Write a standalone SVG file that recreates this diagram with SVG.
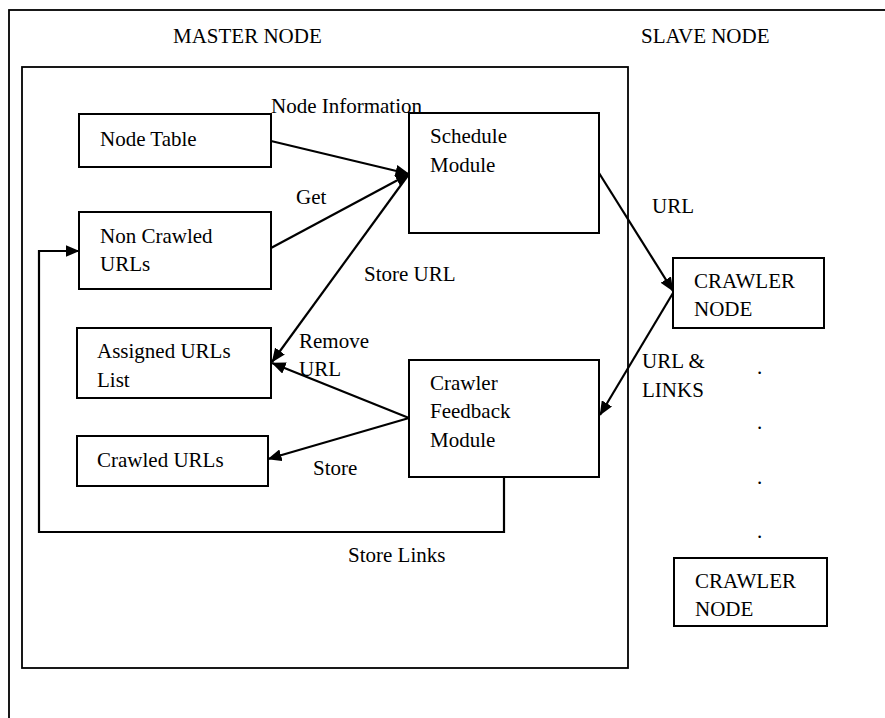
<svg xmlns="http://www.w3.org/2000/svg" width="885" height="718" viewBox="0 0 885 718">
  <style>
    text { font-family: "Liberation Serif", "Times New Roman", serif; font-size: 21px; fill: #000; }
    .box { fill: #fff; stroke: #000; stroke-width: 2; }
    .frame { fill: none; stroke: #000; stroke-width: 1.8; }
    .link { fill: none; stroke: #000; stroke-width: 2.2; }
  </style>
  <defs>
    <marker id="head" markerUnits="userSpaceOnUse" markerWidth="14" markerHeight="12" refX="13.5" refY="6" orient="auto">
      <path d="M0,0 L14,6 L0,12 z" fill="#000"/>
    </marker>
  </defs>

  <rect width="885" height="718" fill="#fff"/>

  <!-- outer page frame (runs past the right and bottom edges) -->
  <rect class="frame" x="9" y="10" width="900" height="760"/>
  <text x="173" y="43">MASTER NODE</text>
  <text x="641" y="43">SLAVE NODE</text>

  <!-- master node container -->
  <rect id="master" class="frame" x="22" y="67" width="606" height="601"/>

  <!-- connectors -->
  <g id="connectors">
    <line class="link" x1="271" y1="141" x2="409" y2="174" marker-end="url(#head)"/>
    <line class="link" x1="271" y1="248" x2="409" y2="174" marker-end="url(#head)"/>
    <line class="link" x1="409" y1="174" x2="272" y2="362" marker-end="url(#head)"/>
    <line class="link" x1="409" y1="418" x2="272" y2="363" marker-end="url(#head)"/>
    <line class="link" x1="409" y1="418" x2="268" y2="459" marker-end="url(#head)"/>
    <line class="link" x1="599" y1="173" x2="673" y2="291" marker-end="url(#head)"/>
    <line class="link" x1="673" y1="293" x2="600" y2="415" marker-end="url(#head)"/>
    <polyline class="link" points="504,477 504,532 39,532 39,251 79,251" marker-end="url(#head)"/>

    <text x="271" y="113">Node Information</text>
    <text x="296" y="204">Get</text>
    <text x="364" y="281">Store URL</text>
    <text x="299" y="348">Remove</text>
    <text x="299" y="376">URL</text>
    <text x="313" y="475">Store</text>
    <text x="348" y="562">Store Links</text>
    <text x="652" y="213">URL</text>
    <text x="642" y="368">URL &amp;</text>
    <text x="642" y="397">LINKS</text>
  </g>

  <g id="node-table">
    <rect class="box" x="79" y="114" width="192" height="53"/>
    <text x="100" y="146">Node Table</text>
  </g>

  <g id="non-crawled-urls">
    <rect class="box" x="79" y="212" width="192" height="77"/>
    <text x="100" y="243">Non Crawled</text>
    <text x="100" y="271">URLs</text>
  </g>

  <g id="assigned-urls-list">
    <rect class="box" x="77" y="328" width="194" height="70"/>
    <text x="97" y="358">Assigned URLs</text>
    <text x="97" y="387">List</text>
  </g>

  <g id="crawled-urls">
    <rect class="box" x="77" y="436" width="191" height="50"/>
    <text x="97" y="467">Crawled URLs</text>
  </g>

  <g id="schedule-module">
    <rect class="box" x="409" y="113" width="190" height="120"/>
    <text x="430" y="143">Schedule</text>
    <text x="430" y="172">Module</text>
  </g>

  <g id="crawler-feedback-module">
    <rect class="box" x="409" y="360" width="190" height="117"/>
    <text x="430" y="390">Crawler</text>
    <text x="430" y="418">Feedback</text>
    <text x="430" y="447">Module</text>
  </g>

  <g id="crawler-node-1">
    <rect class="box" x="673" y="258" width="151" height="70"/>
    <text x="694" y="288">CRAWLER</text>
    <text x="694" y="316">NODE</text>
  </g>

  <g id="more-crawlers">
    <text x="757" y="374">.</text>
    <text x="757" y="429">.</text>
    <text x="757" y="484">.</text>
    <text x="757" y="538">.</text>
  </g>

  <g id="crawler-node-2">
    <rect class="box" x="674" y="558" width="153" height="68"/>
    <text x="695" y="588">CRAWLER</text>
    <text x="695" y="616">NODE</text>
  </g>
</svg>
